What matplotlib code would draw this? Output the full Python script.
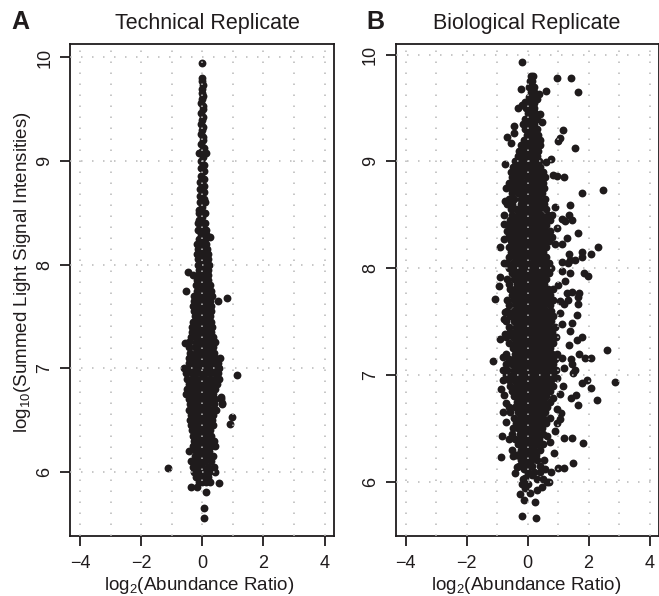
import matplotlib
matplotlib.use('Agg')
import matplotlib.pyplot as plt

plt.rcParams['font.family'] = ['Liberation Sans', 'DejaVu Sans']
plt.rcParams['mathtext.default'] = 'regular'

# panel A, narrow spire at the top
a_spire_y = [9.95, 9.80, 9.77, 9.73, 9.70, 9.66, 9.63, 9.60, 9.56, 9.53, 9.50, 9.46, 9.43, 9.40, 9.36, 9.33,
             9.30, 9.26, 9.23, 9.20, 9.16, 9.13, 9.10, 9.08, 9.08, 9.04, 9.00, 8.96, 8.93, 8.90, 8.86, 8.83,
             8.80, 8.76, 8.73, 8.70, 8.66, 8.63, 8.60, 8.60, 8.56, 8.53, 8.50, 8.50, 8.46, 8.43, 8.40, 8.40,
             8.36, 8.33, 8.33, 8.30, 8.30, 8.27]
a_spire_x = [0.0, 0.0, -0.02, 0.02, 0.0, -0.02, 0.03, 0.0, -0.03, 0.02, 0.01, -0.03, 0.03, 0.0, -0.03, 0.02,
             0.0, -0.04, 0.03, 0.01, -0.05, 0.04, -0.02, -0.12, 0.12, 0.03, -0.04, 0.05, -0.05, 0.05, -0.04, 0.04,
             -0.07, 0.05, -0.06, 0.06, -0.08, 0.07, -0.08, 0.08, 0.0, -0.1, -0.1, 0.09, 0.0, -0.12, -0.13, 0.1,
             0.0, -0.14, 0.12, -0.05, 0.12, 0.25]

# panel A, body rows: one y level and the x values read along it
a_row_y = [8.25, 8.20, 8.15, 8.10, 8.05, 8.00, 7.95, 7.90, 7.85, 7.80, 7.75, 7.70, 7.65, 7.60, 7.55, 7.50, 7.45,
           7.40, 7.35, 7.30, 7.25, 7.20, 7.15, 7.10, 7.05, 7.00, 6.95, 6.90, 6.85, 6.80, 6.75, 6.70, 6.65, 6.60,
           6.55, 6.50, 6.45, 6.40, 6.35, 6.30, 6.25, 6.20, 6.15, 6.10, 6.05, 6.00, 5.95, 5.90]
a_row_x = [
    [-0.12, -0.02, 0.08], [-0.16, -0.05, 0.06, 0.13], [-0.13, 0.0, 0.14], [-0.17, -0.06, 0.07, 0.17],
    [-0.14, 0.02, 0.2], [-0.15, -0.03, 0.08, 0.22], [-0.12, 0.03, 0.18], [-0.31, -0.14, -0.02, 0.1, 0.2],
    [-0.18, -0.06, 0.06, 0.2], [-0.2, -0.05, 0.1, 0.25], [-0.18, 0.0, 0.15, 0.3],
    [-0.28, -0.12, 0.03, 0.2, 0.33], [-0.27, -0.1, 0.08, 0.25], [-0.3, -0.15, 0.0, 0.15, 0.3],
    [-0.28, -0.1, 0.05, 0.2, 0.28], [-0.25, -0.1, 0.05, 0.2, 0.26], [-0.3, -0.15, 0.0, 0.15, 0.3],
    [-0.35, -0.2, -0.05, 0.1, 0.25, 0.33], [-0.33, -0.15, 0.0, 0.15, 0.3],
    [-0.38, -0.2, -0.05, 0.1, 0.25, 0.35], [-0.42, -0.2, -0.05, 0.1, 0.25, 0.42],
    [-0.45, -0.25, -0.1, 0.05, 0.2, 0.35], [-0.4, -0.2, -0.05, 0.1, 0.25, 0.38],
    [-0.45, -0.3, -0.15, 0.0, 0.15, 0.3, 0.42, 0.58], [-0.42, -0.25, -0.1, 0.05, 0.2, 0.35, 0.5],
    [-0.6, -0.45, -0.3, -0.15, 0.0, 0.15, 0.3, 0.45, 0.55], [-0.52, -0.35, -0.2, -0.05, 0.1, 0.25, 0.4, 0.52],
    [-0.5, -0.35, -0.2, -0.05, 0.1, 0.25, 0.4, 0.55], [-0.45, -0.3, -0.15, 0.0, 0.15, 0.3, 0.48],
    [-0.5, -0.35, -0.2, -0.05, 0.1, 0.25, 0.42], [-0.55, -0.4, -0.25, -0.1, 0.05, 0.2, 0.35],
    [-0.45, -0.3, -0.15, 0.0, 0.15, 0.3, 0.42, 0.6], [-0.4, -0.25, -0.1, 0.05, 0.2, 0.38, 0.65],
    [-0.45, -0.3, -0.15, 0.0, 0.15, 0.3, 0.45], [-0.38, -0.22, -0.07, 0.08, 0.22, 0.35],
    [-0.4, -0.25, -0.1, 0.05, 0.2, 0.33], [-0.38, -0.22, -0.07, 0.08, 0.22, 0.36],
    [-0.34, -0.2, -0.05, 0.1, 0.25], [-0.3, -0.15, 0.0, 0.15, 0.3], [-0.26, -0.1, 0.05, 0.2, 0.38],
    [-0.3, -0.15, 0.0, 0.12, 0.3, 0.4], [-0.42, -0.2, -0.05, 0.1, 0.22], [-0.25, -0.1, 0.05, 0.2, 0.35],
    [-0.38, -0.2, -0.05, 0.1, 0.28], [-0.3, -0.15, 0.0, 0.18, 0.38], [-0.28, -0.1, 0.05, 0.22, 0.43],
    [-0.22, -0.05, 0.1, 0.2], [-0.12, 0.0, 0.12, 0.25],
]
a_out_x = [-0.46, -0.54, 0.52, 0.8, -0.57, 1.15, 0.6, 0.65, 0.98, 0.9, -1.13, 0.53, -0.37, -0.18, 0.12, 0.05, 0.05]
a_out_y = [7.93, 7.75, 7.65, 7.68, 7.24, 6.93, 6.72, 6.66, 6.53, 6.46, 6.04, 5.89, 5.85, 5.85, 5.80, 5.65, 5.55]

# panel B, core rows
b_row_y = [9.80, 9.75, 9.70, 9.65, 9.60, 9.55, 9.50, 9.45, 9.40, 9.35, 9.30, 9.25, 9.20, 9.15, 9.10, 9.05, 9.00,
           8.95, 8.90, 8.85, 8.80, 8.75, 8.70, 8.65, 8.60, 8.55, 8.50, 8.45, 8.40, 8.35, 8.30, 8.25, 8.20, 8.15,
           8.10, 8.05, 8.00, 7.95, 7.90, 7.85, 7.80, 7.75, 7.70, 7.65, 7.60, 7.55, 7.50, 7.45, 7.40, 7.35, 7.30,
           7.25, 7.20, 7.15, 7.10, 7.05, 7.00, 6.95, 6.90, 6.85, 6.80, 6.75, 6.70, 6.65, 6.60, 6.55, 6.50, 6.45,
           6.40, 6.35, 6.30, 6.25, 6.20, 6.15]
b_row_x = [
    [0.12, 0.18], [0.08, 0.15], [0.05, 0.12, 0.2], [0.1, 0.2], [0.05, 0.15, 0.27], [0.0, 0.12, 0.22],
    [-0.05, 0.1, 0.2], [0.02, 0.12, 0.25], [-0.08, 0.05, 0.18, 0.3], [-0.15, -0.02, 0.1, 0.22],
    [-0.1, 0.03, 0.15, 0.3], [-0.03, 0.1, 0.22, 0.35], [-0.12, 0.0, 0.13, 0.27, 0.4],
    [-0.22, -0.08, 0.05, 0.18, 0.32, 0.42], [-0.28, -0.15, -0.02, 0.12, 0.25, 0.35],
    [-0.32, -0.18, -0.05, 0.08, 0.22, 0.32], [-0.4, -0.25, -0.1, 0.03, 0.17, 0.3, 0.38],
    [-0.48, -0.3, -0.15, -0.02, 0.12, 0.25, 0.4], [-0.55, -0.4, -0.22, -0.08, 0.07, 0.2, 0.33, 0.5],
    [-0.5, -0.35, -0.2, -0.03, 0.12, 0.27, 0.45, 0.58], [-0.6, -0.45, -0.28, -0.12, 0.03, 0.18, 0.33, 0.5],
    [-0.55, -0.38, -0.22, -0.05, 0.1, 0.25, 0.42, 0.55], [-0.5, -0.3, -0.15, 0.0, 0.15, 0.3, 0.48],
    [-0.62, -0.45, -0.22, -0.08, 0.07, 0.22, 0.38, 0.56], [-0.68, -0.5, -0.2, -0.03, 0.12, 0.27, 0.42, 0.55],
    [-0.55, -0.38, -0.22, -0.07, 0.08, 0.23, 0.38, 0.6], [-0.5, -0.3, -0.15, 0.0, 0.15, 0.3, 0.45, 0.68, 0.8],
    [-0.58, -0.4, -0.22, -0.07, 0.08, 0.23, 0.38, 0.55, 0.75], [-0.62, -0.45, -0.28, -0.13, 0.02, 0.17, 0.32, 0.48, 0.62],
    [-0.66, -0.5, -0.33, -0.18, -0.03, 0.12, 0.27, 0.42, 0.58, 0.72], [-0.6, -0.42, -0.25, -0.1, 0.05, 0.2, 0.35, 0.5, 0.65],
    [-0.55, -0.38, -0.22, -0.07, 0.08, 0.23, 0.38, 0.55, 0.7], [-0.62, -0.45, -0.28, -0.13, 0.02, 0.17, 0.32, 0.48, 0.62],
    [-0.55, -0.38, -0.22, -0.07, 0.08, 0.23, 0.38, 0.52], [-0.6, -0.42, -0.27, -0.12, 0.03, 0.18, 0.33, 0.48, 0.62],
    [-0.66, -0.48, -0.32, -0.17, -0.02, 0.13, 0.28, 0.43, 0.58, 0.7], [-0.6, -0.44, -0.28, -0.13, 0.02, 0.17, 0.32, 0.47, 0.62, 0.78],
    [-0.52, -0.36, -0.2, -0.05, 0.1, 0.25, 0.4, 0.55, 0.7], [-0.66, -0.44, -0.28, -0.13, 0.02, 0.17, 0.32, 0.47, 0.62],
    [-0.6, -0.36, -0.2, -0.05, 0.1, 0.25, 0.4, 0.55], [-0.58, -0.42, -0.26, -0.11, 0.04, 0.19, 0.34, 0.49, 0.68],
    [-0.5, -0.34, -0.18, -0.03, 0.12, 0.27, 0.42, 0.57, 0.75], [-0.68, -0.44, -0.26, -0.11, 0.04, 0.19, 0.34, 0.49, 0.65, 0.82],
    [-0.6, -0.38, -0.2, -0.05, 0.1, 0.25, 0.4, 0.55, 0.72], [-0.66, -0.46, -0.28, -0.13, 0.02, 0.17, 0.32, 0.47, 0.62, 0.78],
    [-0.58, -0.38, -0.2, -0.05, 0.1, 0.25, 0.4, 0.55, 0.7, 0.85], [-0.7, -0.46, -0.28, -0.13, 0.02, 0.17, 0.32, 0.47, 0.62, 0.78],
    [-0.62, -0.38, -0.2, -0.05, 0.1, 0.25, 0.4, 0.55, 0.7, 0.9], [-0.56, -0.4, -0.26, -0.11, 0.04, 0.19, 0.34, 0.49, 0.64, 0.8],
    [-0.72, -0.48, -0.32, -0.17, -0.02, 0.13, 0.28, 0.43, 0.58, 0.74, 0.92], [-0.6, -0.4, -0.24, -0.09, 0.06, 0.21, 0.36, 0.51, 0.66, 0.82],
    [-0.48, -0.32, -0.17, -0.02, 0.13, 0.28, 0.43, 0.58, 0.74], [-0.7, -0.42, -0.26, -0.11, 0.04, 0.19, 0.34, 0.49, 0.64, 0.8, 0.95],
    [-0.62, -0.46, -0.3, -0.15, 0.0, 0.15, 0.3, 0.45, 0.6, 0.76, 0.9], [-0.72, -0.52, -0.36, -0.21, -0.06, 0.09, 0.24, 0.39, 0.54, 0.7, 0.85],
    [-0.66, -0.46, -0.3, -0.15, 0.0, 0.15, 0.3, 0.45, 0.6, 0.76, 0.92], [-0.72, -0.52, -0.36, -0.21, -0.06, 0.09, 0.24, 0.39, 0.54, 0.7, 0.82],
    [-0.62, -0.44, -0.28, -0.13, 0.02, 0.17, 0.32, 0.47, 0.62, 0.78], [-0.56, -0.38, -0.22, -0.07, 0.08, 0.23, 0.38, 0.53, 0.68, 0.82],
    [-0.5, -0.34, -0.18, -0.03, 0.12, 0.27, 0.42, 0.57, 0.72], [-0.46, -0.28, -0.13, 0.02, 0.17, 0.32, 0.47, 0.62],
    [-0.36, -0.2, -0.05, 0.1, 0.25, 0.4, 0.55, 0.72], [-0.42, -0.26, -0.11, 0.04, 0.19, 0.34, 0.49, 0.64],
    [-0.56, -0.32, -0.17, -0.02, 0.13, 0.28, 0.43, 0.58], [-0.46, -0.26, -0.11, 0.04, 0.19, 0.34, 0.49, 0.72],
    [-0.38, -0.2, -0.05, 0.1, 0.25, 0.4, 0.6], [-0.48, -0.3, -0.14, 0.01, 0.16, 0.31, 0.46], [-0.26, -0.1, 0.05, 0.2, 0.35, 0.52],
    [-0.4, -0.22, -0.07, 0.08, 0.23, 0.38], [-0.3, -0.14, 0.01, 0.16, 0.31, 0.5], [-0.22, -0.08, 0.07, 0.22, 0.4],
    [-0.34, -0.18, -0.03, 0.12, 0.27], [-0.2, -0.04, 0.11, 0.3, 0.55], [-0.28, -0.14, 0.02, 0.16, 0.42],
    [-0.18, -0.04, 0.1, 0.26, 0.38],
]
b_out_x = [-0.19, 0.96, 1.42, 1.67, 0.62, 0.38, -0.2, 0.3, -0.32, -0.19, -0.08, 0.41, 0.46, -0.44, 1.15, 1.07, 0.99,
           -0.68, -0.46, -0.53, 1.57, -0.73, 0.76, 0.6, 0.82, 0.96, 1.19, 1.79, 2.49, 1.39, 0.9, 1.35, 1.45, 1.12,
           1.23, 1.66, 0.98, 1.29, 1.12, 0.9, 0.8, 2.32, 2.07, 1.8, 1.78, 1.37, 1.39, 1.56, 1.12, 1.32, 1.86, 1.99,
           1.12, 1.39, 1.24, 1.01, 0.85, 1.45, 1.29, 1.7, -0.95, -1.08, -0.89, -0.78, -0.89, -0.78, -0.78, -0.76,
           -0.71, -0.73, 1.64, 1.34, 1.07, 1.18, 1.64, 1.61, 1.45, 1.07, 1.12, 1.39, 1.78, 1.63, 1.37, 2.61, 1.68,
           1.88, 2.07, 1.12, 1.42, 1.47, 1.21, 1.55, 1.5, 2.87, 1.94, 1.78, 2.08, 1.15, 0.96, 1.58, 1.41, 2.28,
           1.67, 1.05, 0.85, 0.98, 1.09, 1.05, 0.98, 0.9, 1.2, 1.47, 1.83, 0.63, 0.74, 0.87, 1.5, 1.18, 0.99, 0.78,
           0.69, -1.14, -0.82, -0.89, -0.73, -0.78, -0.73, -0.82, -0.81, -0.88, -0.78, -0.71, -0.62, -0.81, -0.71,
           -0.84, -0.62, -0.51, -0.88, -0.5, -0.49, -0.35, -0.35, -0.4, -0.15, -0.19, -0.24, -0.11, 0.23, -0.19, 0.27]
b_out_y = [9.93, 9.78, 9.78, 9.65, 9.66, 9.63, 9.68, 9.58, 9.50, 9.53, 9.56, 9.44, 9.37, 9.33, 9.29, 9.22, 9.19,
           9.23, 9.27, 9.17, 9.13, 8.98, 9.02, 8.99, 8.87, 8.86, 8.85, 8.70, 8.73, 8.59, 8.57, 8.50, 8.45, 8.46,
           8.44, 8.33, 8.38, 8.28, 8.23, 8.23, 8.29, 8.20, 8.13, 8.15, 8.10, 8.13, 8.08, 8.08, 8.06, 8.05, 7.95, 7.93,
           7.97, 7.95, 7.88, 7.84, 7.80, 7.78, 7.77, 7.77, 7.83, 7.71, 7.92, 8.05, 8.20, 8.27, 8.41, 8.50,
           8.75, 8.63, 7.73, 7.70, 7.69, 7.66, 7.66, 7.56, 7.49, 7.58, 7.48, 7.41, 7.35, 7.33, 7.28, 7.23, 7.20,
           7.16, 7.16, 7.16, 7.15, 7.10, 7.06, 7.05, 7.02, 6.93, 6.95, 6.92, 6.88, 6.90, 6.97, 6.81, 6.78, 6.76,
           6.72, 6.82, 6.78, 6.68, 6.64, 6.59, 6.55, 6.47, 6.41, 6.41, 6.36, 6.43, 6.37, 6.27, 6.17, 6.13, 6.13, 6.09,
           6.00, 7.13, 7.17, 7.34, 7.38, 7.52, 7.59, 7.05, 6.95, 6.87, 6.81, 6.74, 6.70, 6.65, 6.56,
           6.43, 6.40, 6.45, 6.23, 6.30, 6.24, 6.25, 6.14, 6.08, 6.02, 5.98, 5.88, 5.83, 5.81, 5.68, 5.66]
# the loose ring of points at the foot of panel B
b_foot_x = [0.09, 0.3, 0.47, 0.65, 0.52, 0.3, 0.14, 0.41, 0.2, 0.03, -0.08, 0.03, -0.08, -0.12, 0.0, 0.58]
b_foot_y = [5.89, 5.92, 5.95, 6.00, 6.02, 6.02, 6.06, 6.09, 6.09, 6.08, 6.03, 5.98, 5.94, 6.12, 6.13, 6.12]

x_major = [-4, -2, 0, 2, 4]
x_minor = [-3, -1, 1, 3]
x_labels = ['\u22124', '\u22122', '0', '2', '4']
y_major = [6, 7, 8, 9, 10]

W, H = 659, 596
INK = '#1f1b1c'
DOT = 32


def flatten(row_y, row_x):
    xs, ys = [], []
    for y, row in zip(row_y, row_x):
        for x in row:
            xs.append(x)
            ys.append(y)
    return xs, ys


def make_panel(left, right, top, bottom, xlim, ylim):
    ax = fig.add_axes([left / W, 1 - bottom / H, (right - left) / W, (bottom - top) / H])
    ax.set_xlim(xlim)
    ax.set_ylim(ylim)
    ax.set_xticks(x_major)
    ax.set_xticklabels(x_labels)
    ax.set_xticks(x_minor, minor=True)
    ax.set_yticks(y_major)
    ax.tick_params(axis='x', which='major', length=7, width=1.3, color=INK, labelsize=13,
                   labelcolor=INK, pad=7)
    ax.tick_params(axis='x', which='minor', length=0)
    ax.tick_params(axis='y', which='major', length=7, width=1.3, color=INK, labelsize=13,
                   labelcolor=INK, pad=5)
    for lab in ax.get_yticklabels():
        lab.set_rotation(90)
        lab.set_va('center')
    ax.grid(True, axis='x', which='both', color='#b8b8b8', linewidth=1.1, linestyle=(0, (1, 6.2)))
    ax.grid(True, axis='y', which='major', color='#b8b8b8', linewidth=1.1, linestyle=(0, (1, 6.2)))
    ax.set_axisbelow(False)
    for s in ax.spines.values():
        s.set_linewidth(1.3)
        s.set_color(INK)
    return ax


fig = plt.figure(figsize=(W / 100, H / 100), dpi=100)

ax1 = make_panel(70, 334, 44, 536, (-4.33, 4.31), (5.38, 10.13))
rx, ry = flatten(a_row_y, a_row_x)
ax1.scatter(a_spire_x + rx + a_out_x, a_spire_y + ry + a_out_y, s=DOT, color=INK, linewidths=0, zorder=1)

ax2 = make_panel(395.5, 658.7, 44, 536, (-4.33, 4.3), (5.49, 10.1))
rx, ry = flatten(b_row_y, b_row_x)
ax2.scatter(rx + b_out_x + b_foot_x, ry + b_out_y + b_foot_y, s=DOT, color=INK, linewidths=0, zorder=1)

fig.text(199 / W, 1 - 585 / H, 'log$_2$(Abundance Ratio)', fontsize=13.5, color=INK, ha='center', va='center')
fig.text(526 / W, 1 - 585 / H, 'log$_2$(Abundance Ratio)', fontsize=13.5, color=INK, ha='center', va='center')
fig.text(23 / W, 1 - 272 / H, 'log$_{10}$(Summed Light Signal Intensities)', fontsize=13.5, color=INK,
         rotation=90, ha='center', va='center')
fig.text(207 / W, 1 - 23 / H, 'Technical Replicate', fontsize=15.5, color=INK, ha='center', va='center')
fig.text(527 / W, 1 - 23 / H, 'Biological Replicate', fontsize=15.5, color=INK, ha='center', va='center')
fig.text(11 / W, 1 - 22 / H, 'A', fontsize=18, fontweight='bold', color=INK, ha='left', va='center')
fig.text(366 / W, 1 - 22 / H, 'B', fontsize=18, fontweight='bold', color=INK, ha='left', va='center')

fig.savefig('out.png', dpi=100)
